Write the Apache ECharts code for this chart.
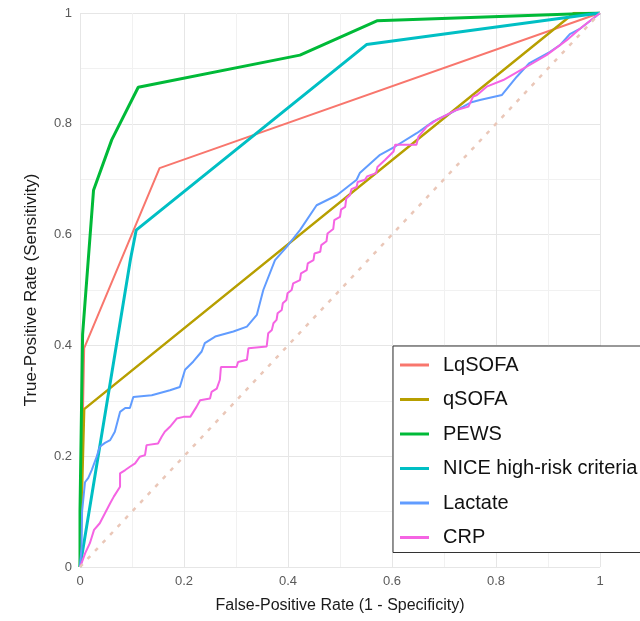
<!DOCTYPE html>
<html><head><meta charset="utf-8">
<script src="https://cdn.jsdelivr.net/npm/echarts@6/dist/echarts.min.js"></script>
<style>html,body{margin:0;padding:0;background:#fff}#c{width:640px;height:621px}</style>
</head><body><div id="c"></div><script>
const seriesNames = ['LqSOFA', 'qSOFA', 'PEWS', 'NICE high-risk criteria', 'Lactate', 'CRP'];
const seriesColors = ['#F8766D', '#B79F00', '#00BA38', '#00BFC4', '#619CFF', '#F564E3'];
const tickLabels = ['0', '0.2', '0.4', '0.6', '0.8', '1'];
const xTitle = 'False-Positive Rate (1 - Specificity)';
const yTitle = 'True-Positive Rate (Sensitivity)';

const lqsofa = [[0,0],[0.008,0.395],[0.153,0.72],[1,1]];
const qsofa = [[0,0],[0.008,0.285],[0.95,1],[1,1]];
const pews = [[0,0],[0,0.1],[0.005,0.42],[0.026,0.68],[0.061,0.771],[0.112,0.866],[0.423,0.924],[0.571,0.986],[1,1]];
const nice = [[0,0],[0.097,0.555],[0.108,0.608],[0.551,0.943],[1,1]];
const lactate = [[0,0],[0.003,0.037],[0.004,0.10],[0.0096,0.153],[0.016,0.161],[0.0225,0.175],[0.032,0.199],[0.038,0.217],[0.048,0.224],[0.058,0.229],[0.067,0.244],[0.077,0.280],[0.087,0.287],[0.096,0.287],[0.1025,0.307],[0.138,0.310],[0.173,0.319],[0.192,0.325],[0.202,0.356],[0.218,0.371],[0.234,0.389],[0.240,0.404],[0.260,0.416],[0.295,0.425],[0.321,0.434],[0.340,0.455],[0.3525,0.500],[0.375,0.554],[0.3975,0.578],[0.423,0.608],[0.455,0.653],[0.494,0.671],[0.532,0.699],[0.538,0.711],[0.577,0.744],[0.606,0.759],[0.6475,0.783],[0.679,0.804],[0.7115,0.819],[0.737,0.831],[0.753,0.839],[0.769,0.843],[0.8115,0.852],[0.840,0.885],[0.8635,0.909],[0.904,0.930],[0.923,0.942],[0.942,0.962],[0.962,0.972],[0.987,0.990],[1,1]];
const crp = [[0,0],[0.003,0.007],[0.010,0.025],[0.019,0.043],[0.027,0.067],[0.038,0.079],[0.048,0.097],[0.058,0.115],[0.065,0.127],[0.077,0.145],[0.077,0.169],[0.087,0.175],[0.096,0.181],[0.106,0.187],[0.115,0.199],[0.125,0.202],[0.128,0.220],[0.150,0.223],[0.157,0.235],[0.163,0.244],[0.173,0.253],[0.186,0.268],[0.199,0.271],[0.212,0.271],[0.218,0.280],[0.224,0.289],[0.231,0.301],[0.250,0.304],[0.253,0.316],[0.263,0.322],[0.269,0.338],[0.271,0.361],[0.301,0.361],[0.304,0.370],[0.321,0.374],[0.324,0.395],[0.359,0.398],[0.362,0.422],[0.369,0.428],[0.372,0.440],[0.378,0.446],[0.380,0.458],[0.388,0.464],[0.390,0.476],[0.397,0.482],[0.399,0.494],[0.407,0.500],[0.410,0.512],[0.423,0.518],[0.425,0.530],[0.436,0.536],[0.438,0.548],[0.449,0.554],[0.451,0.566],[0.462,0.569],[0.464,0.581],[0.474,0.588],[0.476,0.602],[0.487,0.610],[0.489,0.626],[0.500,0.632],[0.502,0.645],[0.510,0.650],[0.512,0.665],[0.519,0.671],[0.522,0.682],[0.532,0.686],[0.534,0.695],[0.548,0.699],[0.552,0.705],[0.5695,0.711],[0.572,0.722],[0.587,0.735],[0.603,0.750],[0.606,0.762],[0.647,0.762],[0.651,0.777],[0.667,0.795],[0.686,0.807],[0.705,0.816],[0.724,0.825],[0.747,0.831],[0.756,0.849],[0.7635,0.852],[0.782,0.867],[0.814,0.879],[0.859,0.903],[0.897,0.924],[0.936,0.951],[0.962,0.972],[1,1]];
const diagonal = [[0,0],[1,1]];

const seriesData = [lqsofa, qsofa, pews, nice, lactate, crp];
const seriesWidths = [2, 2.5, 3, 3, 2, 2];

const chart = echarts.init(document.getElementById('c'), null, {renderer: 'canvas'});
const font = "'Liberation Sans', Arial, sans-serif";
function axis(name, isX) {
  return {
    type: 'value', min: 0, max: 1, interval: 0.2,
    name: name, nameLocation: 'middle', nameGap: isX ? 31 : 40,
    nameTextStyle: {fontSize: isX ? 16 : 17, color: '#1a1a1a', fontFamily: font},
    axisLine: {show: false}, axisTick: {show: false},
    axisLabel: {fontSize: 13, color: '#5a5a5a', fontFamily: font, margin: 8,
      formatter: v => tickLabels[Math.round(v / 0.2)]},
    splitLine: {show: true, lineStyle: {color: '#e6e6e6', width: 1}},
    minorTick: {show: false, splitNumber: 2},
    minorSplitLine: {show: true, lineStyle: {color: '#f1f1f1', width: 1}}
  };
}
const series = seriesNames.map((n, i) => ({
  name: n, type: 'line', data: seriesData[i], symbol: 'none', showSymbol: false,
  lineStyle: {color: seriesColors[i], width: seriesWidths[i]},
  itemStyle: {color: seriesColors[i]}, z: 3 + i, animation: false
}));
series.push({
  name: 'ref', type: 'line', data: diagonal, symbol: 'none', silent: true,
  lineStyle: {color: '#eac7b8', width: 2.5, type: [4, 7]}, z: 10, animation: false
});
chart.setOption({
  animation: false,
  backgroundColor: '#fff',
  grid: {left: 80, right: 40, top: 13, bottom: 54},
  xAxis: axis(xTitle, true),
  yAxis: axis(yTitle, false),
  legend: {
    data: seriesNames, orient: 'vertical', left: 393, top: 346,
    padding: [8, 12, 4, 7], itemWidth: 29, itemHeight: 3, itemGap: 12.5,
    icon: 'rect',
    borderColor: '#333', borderWidth: 1, backgroundColor: '#fff',
    textStyle: {fontSize: 20, color: '#111', lineHeight: 22, fontFamily: font, padding: [0, 0, 0, 9]}
  },
  series: series
});
</script></body></html>
